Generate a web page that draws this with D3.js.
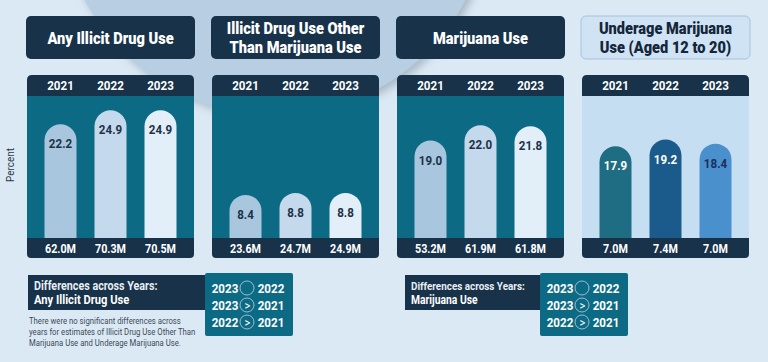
<!DOCTYPE html>
<html>
<head>
<meta charset="utf-8">
<script src="https://cdn.jsdelivr.net/npm/d3@7"></script>
<style>
  html, body { margin: 0; padding: 0; background: #dbe9f5; }
  svg { display: block; }
  text { font-family: Roboto, "Liberation Sans", sans-serif; }
</style>
</head>
<body>
<svg id="chart"></svg>
<script>
const years = ["2021", "2022", "2023"];
const panelIds = ["any", "other", "mj", "underage"];
const titleLines = [
  ["Any Illicit Drug Use"],
  ["Illicit Drug Use Other", "Than Marijuana Use"],
  ["Marijuana Use"],
  ["Underage Marijuana", "Use (Aged 12 to 20)"]
];
const anyIllicit = [22.2, 24.9, 24.9];
const otherThanMj = [8.4, 8.8, 8.8];
const marijuana = [19.0, 22.0, 21.8];
const underageMj = [17.9, 19.2, 18.4];
const anyCounts = ["62.0M", "70.3M", "70.5M"];
const otherCounts = ["23.6M", "24.7M", "24.9M"];
const mjCounts = ["53.2M", "61.9M", "61.8M"];
const underageCounts = ["7.0M", "7.4M", "7.0M"];
const anyDiffs = [["2023", "", "2022"], ["2023", ">", "2021"], ["2022", ">", "2021"]];
const mjDiffs = [["2023", "", "2022"], ["2023", ">", "2021"], ["2022", ">", "2021"]];
const note = ["There were no significant differences across",
  "years for estimates of Illicit Drug Use Other Than",
  "Marijuana Use and Underage Marijuana Use."];

const width = 768, height = 362;
const navy = "#173249", teal = "#0d6a84";
const lightBars = ["#a8c6de", "#c4daec", "#e2eef8"];
const darkBars = ["#1f6d83", "#1a5b8b", "#4a90cd"];
const condense = 0.86; // narrow the sans face toward a condensed look

const panels = [
  { values: anyIllicit, counts: anyCounts, bars: lightBars, body: teal, labels: ["#1d3248", "#1d3248", "#1d3248"] },
  { values: otherThanMj, counts: otherCounts, bars: lightBars, body: teal, labels: ["#1d3248", "#1d3248", "#1d3248"] },
  { values: marijuana, counts: mjCounts, bars: lightBars, body: teal, labels: ["#1d3248", "#1d3248", "#1d3248"] },
  { values: underageMj, counts: underageCounts, bars: darkBars, body: "#c6def2", labels: ["#ffffff", "#ffffff", "#1b2d5c"], lightTitle: true }
];

const svg = d3.select("#chart").attr("width", width).attr("height", height);

// background decoration
svg.append("rect").attr("width", width).attr("height", height).attr("fill", "#dbe9f5");
const defs = svg.append("defs");
const f = defs.append("filter").attr("id", "sh").attr("x", "-20%").attr("y", "-20%").attr("width", "140%").attr("height", "140%");
f.append("feDropShadow").attr("dx", 4).attr("dy", 4).attr("stdDeviation", 4).attr("flood-color", "#6d7f90").attr("flood-opacity", 0.45);
svg.append("circle").attr("cx", 275).attr("cy", -100).attr("r", 215)
  .attr("fill", "#b8cee2").attr("filter", "url(#sh)");

const px = d3.scaleBand().domain(panelIds).range([27, 749]).paddingInner(18 / 185);
const bx = d3.scaleBand().domain(years).range([0, px.bandwidth()]).paddingInner(0.36).paddingOuter(0.35);
const y = d3.scaleLinear().domain([0, 27.7]).range([238, 96]);

const bodyTop = 75, bandH = 21, baseY = y(0), bottomH = 20;

function topRounded(x, yy, w, h, r) {
  return `M${x},${yy + h}V${yy + r}Q${x},${yy} ${x + r},${yy}H${x + w - r}Q${x + w},${yy} ${x + w},${yy + r}V${yy + h}Z`;
}
function bottomRounded(x, yy, w, h, r) {
  return `M${x},${yy}H${x + w}V${yy + h - r}Q${x + w},${yy + h} ${x + w - r},${yy + h}H${x + r}Q${x},${yy + h} ${x},${yy + h - r}Z`;
}
function bar(x, top, w) {
  const r = w / 2;
  return `M${x},${baseY}V${top + r}A${r},${r} 0 0 1 ${x + w},${top + r}V${baseY}Z`;
}

panelIds.forEach((id, i) => {
  const p = panels[i];
  const g = svg.append("g").attr("transform", `translate(${px(id)},0)`);
  const w = px.bandwidth();

  // title box
  g.append("rect").attr("x", -1).attr("y", 16).attr("width", w + 2).attr("height", 43).attr("rx", 5)
    .attr("fill", p.lightTitle ? "#cfe3f4" : navy)
    .attr("stroke", p.lightTitle ? "#a6c3db" : "none");
  const lines = titleLines[i];
  const two = lines.length > 1;
  g.selectAll(".title").data(lines).join("text")
    .attr("x", w / 2)
    .attr("y", (d, k) => two ? 34 + k * 18.5 : 43.5)
    .attr("text-anchor", "middle")
    .attr("font-size", two ? 15.8 : 17).attr("font-weight", 900)
    .attr("data-sx", two ? 0.925 : condense)
    .attr("fill", p.lightTitle ? "#14263a" : "#ffffff")
    .text(d => d);

  // body
  g.append("path").attr("d", topRounded(0, bodyTop, w, bandH + 2, 5)).attr("fill", navy);
  g.append("rect").attr("x", 0).attr("y", bodyTop + bandH).attr("width", w).attr("height", baseY - bodyTop - bandH).attr("fill", p.body);
  g.append("path").attr("d", bottomRounded(0, baseY, w, bottomH, 4)).attr("fill", navy);

  g.selectAll(".yr").data(years).join("text")
    .attr("x", d => bx(d) + bx.bandwidth() / 2).attr("y", bodyTop + 15)
    .attr("text-anchor", "middle").attr("font-size", 13.5).attr("font-weight", "bold").attr("fill", "#fff")
    .text(d => d);

  g.selectAll(".bar").data(p.values).join("path")
    .attr("d", (d, k) => bar(bx(years[k]), y(d), bx.bandwidth()))
    .attr("fill", (d, k) => p.bars[k]);

  g.selectAll(".val").data(p.values).join("text")
    .attr("x", (d, k) => bx(years[k]) + bx.bandwidth() / 2).attr("y", d => y(d) + 24)
    .attr("text-anchor", "middle").attr("font-size", 13.5).attr("font-weight", "bold")
    .attr("fill", (d, k) => p.labels[k])
    .text(d => d.toFixed(1));

  g.selectAll(".cnt").data(p.counts).join("text")
    .attr("x", (d, k) => bx(years[k]) + bx.bandwidth() / 2).attr("y", baseY + 14.5)
    .attr("text-anchor", "middle").attr("font-size", 12.5).attr("font-weight", "bold").attr("fill", "#fff")
    .text(d => d);
});

// differences boxes
function diffBox(x0, title, rows, labelW, titleSize) {
  const g = svg.append("g");
  g.append("rect").attr("x", x0).attr("y", 275).attr("width", labelW).attr("height", 35).attr("fill", navy);
  g.append("text").attr("x", x0 + 6).attr("y", 289.5).attr("font-size", titleSize).attr("font-weight", "bold")
    .attr("fill", "#e8eef4").text("Differences across Years:");
  g.append("text").attr("x", x0 + 6).attr("y", 304).attr("font-size", titleSize + 0.5).attr("font-weight", "bold")
    .attr("fill", "#fff").text(title);
  const tx = x0 + labelW - 1;
  g.append("rect").attr("x", tx).attr("y", 273).attr("width", 88).attr("height", 63).attr("rx", 2).attr("fill", teal);
  const ry = d3.scalePoint().domain(d3.range(rows.length)).range([288, 322]);
  const row = g.selectAll(".row").data(rows).join("g").attr("transform", (d, k) => `translate(${tx},${ry(k)})`);
  row.append("text").attr("x", 20).attr("y", 5).attr("text-anchor", "middle").attr("font-size", 13.5)
    .attr("font-weight", "bold").attr("fill", "#fff").text(d => d[0]);
  row.append("circle").attr("cx", 42).attr("cy", 0).attr("r", 7).attr("fill", "none")
    .attr("stroke", "#b9d3e2").attr("stroke-width", 0.8);
  row.append("text").attr("x", 42.5).attr("y", 4.5).attr("text-anchor", "middle").attr("font-size", 13)
    .attr("fill", "#fff").text(d => d[1]);
  row.append("text").attr("x", 66).attr("y", 5).attr("text-anchor", "middle").attr("font-size", 13.5)
    .attr("font-weight", "bold").attr("fill", "#fff").text(d => d[2]);
}
diffBox(28, "Any Illicit Drug Use", anyDiffs, 178, 12.5);
diffBox(405, "Marijuana Use", mjDiffs, 136, 11.5);

svg.selectAll(".note").data(note).join("text")
  .attr("x", 29).attr("y", (d, k) => 324 + k * 11)
  .attr("font-size", 9).attr("fill", "#3c4a58").text(d => d);

// squeeze every text horizontally
svg.selectAll("text").each(function () {
  const t = d3.select(this);
  const x = +t.attr("x") || 0, yy = +t.attr("y") || 0;
  const sx = t.attr("data-sx") || condense;
  t.attr("x", 0).attr("y", 0).attr("transform", `translate(${x},${yy}) scale(${sx},1)`);
});

svg.append("text").attr("transform", `translate(14,165) rotate(-90) scale(${condense},1)`)
  .attr("text-anchor", "middle").attr("font-size", 11.5).attr("fill", "#2c3a48").text("Percent");
</script>
</body>
</html>
